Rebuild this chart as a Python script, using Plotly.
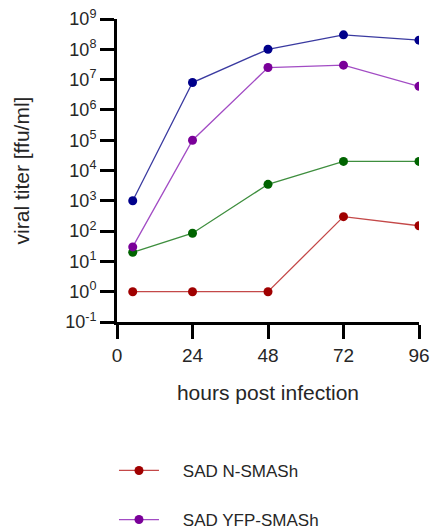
import plotly.graph_objects as go

hours = [5, 24, 48, 72, 96]
sad_n_smash = [1, 1, 1, 300, 150]
sad_yfp_smash = [30, 1e5, 2.5e7, 3e7, 6e6]
sad_blue = [1e3, 8e6, 1e8, 3e8, 2e8]
sad_green = [20, 85, 3.5e3, 2e4, 2e4]

xtick_vals = [0, 24, 48, 72, 96]
ytick_exp = list(range(-1, 10))

series = [
    ("SAD (blue)", sad_blue, "#00008B", "#3A3AA0", False),
    ("SAD (green)", sad_green, "#006400", "#3E8E3E", False),
    ("SAD YFP-SMASh", sad_yfp_smash, "#7A0099", "#A24CC4", True),
    ("SAD N-SMASh", sad_n_smash, "#A00000", "#C44848", True),
]

fig = go.Figure()
for name, vals, mc, lc, show in series:
    fig.add_trace(go.Scatter(
        x=hours, y=vals, name="\u00a0\u00a0\u00a0\u00a0" + name, mode="lines+markers",
        line=dict(color=lc, width=1.3),
        marker=dict(color=mc, size=9),
        showlegend=show, legendgroup=name,
        legendrank=1 if name == "SAD N-SMASh" else 2,
    ))

font_col = "#262626"
fig.update_layout(
    width=430, height=529,
    margin=dict(l=117, r=11, t=19, b=207, autoexpand=False),
    plot_bgcolor="white", paper_bgcolor="white",
    font=dict(family="Liberation Sans, Arial, sans-serif", size=17, color=font_col),
    showlegend=True,
    legend=dict(
        x=-0.01, xanchor="left", y=-0.432, yanchor="top",
        tracegroupgap=24, font=dict(size=17, color=font_col),
        itemwidth=40, bgcolor="rgba(0,0,0,0)",
    ),
    xaxis=dict(
        range=[0, 96], tickvals=xtick_vals, ticktext=[str(v) for v in xtick_vals],
        showline=True, linecolor="black", linewidth=3,
        ticks="outside", ticklen=14, tickwidth=3, tickcolor="black",
        showgrid=False, zeroline=False, automargin=False,
        title=dict(text="hours post infection", font=dict(size=21), standoff=21),
        tickfont=dict(size=19),
    ),
    yaxis=dict(
        type="log", range=[-1, 9],
        tickvals=[10 ** e for e in ytick_exp],
        ticktext=[f"10<sup>{e}</sup>" for e in ytick_exp],
        showline=True, linecolor="black", linewidth=3,
        ticks="outside", ticklen=14, tickwidth=3, tickcolor="black",
        showgrid=False, zeroline=False, automargin=False,
        title=dict(text="viral titer [ffu/ml]", font=dict(size=21), standoff=30),
        tickfont=dict(size=18),
    ),
)

fig.write_html("out.html")
